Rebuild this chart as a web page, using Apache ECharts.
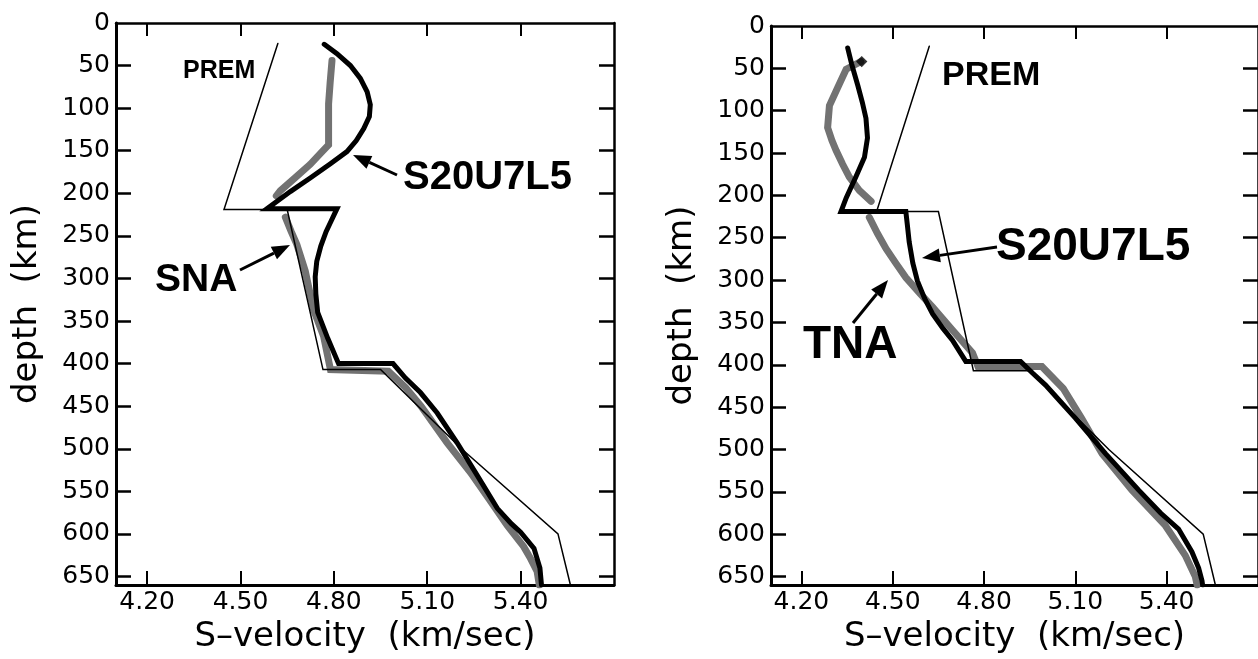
<!DOCTYPE html>
<html>
<head>
<meta charset="utf-8">
<script src="https://cdn.jsdelivr.net/npm/echarts@6/dist/echarts.min.js"></script>
<style>
  html, body { margin: 0; padding: 0; background: #fff; }
  #chart { width: 1258px; height: 659px; }
</style>
</head>
<body>
<div id="chart"></div>
<script>
// ---- tick labels ----
const velocityTicks = [4.20, 4.50, 4.80, 5.10, 5.40];
const depthTicks = [0, 50, 100, 150, 200, 250, 300, 350, 400, 450, 500, 550, 600, 650];
const depthTickMarks = [50, 100, 150, 200, 250, 300, 350, 400, 450, 500, 550, 600, 650];

// ---- reference model (both panels): [S-velocity km/s, depth km] ----
const prem = [[4.62, 24], [4.447, 219], [4.65, 219], [4.765, 407], [4.95, 407], [5.21, 500], [5.52, 600], [5.56, 660]];

// ---- left panel ----
const s20LeftSNA = [
  [4.769, 25], [4.81, 36], [4.853, 50], [4.885, 65], [4.907, 81], [4.917, 96], [4.914, 110], [4.896, 124],
  [4.872, 138], [4.842, 151], [4.79, 165], [4.724, 182], [4.66, 198], [4.585, 218], [4.81, 218], [4.792, 232],
  [4.775, 245], [4.758, 262], [4.745, 280], [4.74, 298], [4.742, 318], [4.748, 340], [4.78, 370], [4.815, 400],
  [4.99, 400], [5.03, 417], [5.078, 434], [5.132, 458], [5.196, 493], [5.26, 531], [5.325, 570], [5.37, 588],
  [5.40, 598], [5.443, 617], [5.462, 640], [5.467, 660]
];
const snaUpper = [
  [4.794, 44], [4.788, 70], [4.783, 95], [4.783, 120], [4.783, 143], [4.76, 152], [4.724, 166], [4.675, 182],
  [4.628, 197], [4.615, 203]
];
const snaLower = [
  [4.644, 228], [4.663, 245], [4.681, 260], [4.708, 291], [4.722, 315], [4.735, 337], [4.767, 368], [4.789, 407],
  [4.975, 409], [5.03, 428], [5.08, 450], [5.164, 493], [5.239, 528], [5.30, 560], [5.357, 590], [5.41, 615],
  [5.432, 629], [5.453, 644], [5.46, 660]
];

// ---- right panel ----
const s20RightTNA = [
  [4.352, 26], [4.365, 45], [4.385, 70], [4.40, 90], [4.412, 109], [4.417, 132], [4.407, 155], [4.379, 178],
  [4.347, 203], [4.33, 219], [4.543, 219], [4.548, 235], [4.554, 255], [4.566, 280], [4.581, 301], [4.605, 322],
  [4.631, 340], [4.665, 357], [4.696, 371], [4.74, 396], [4.92, 396], [4.96, 410], [5.002, 424], [5.05, 443],
  [5.10, 463], [5.199, 505], [5.308, 548], [5.38, 575], [5.439, 594], [5.483, 621], [5.505, 640], [5.516, 655],
  [5.518, 660]
];
const tnaUpper = [
  [4.395, 42], [4.347, 51], [4.32, 72], [4.292, 94], [4.286, 120], [4.30, 135], [4.314, 147], [4.335, 163],
  [4.357, 178], [4.39, 194], [4.429, 207]
];
const tnaLower = [
  [4.423, 226], [4.45, 245], [4.478, 263], [4.51, 280], [4.543, 297], [4.59, 316], [4.631, 332], [4.696, 359],
  [4.762, 386], [4.78, 402], [4.99, 402], [5.06, 428], [5.12, 463], [5.188, 505], [5.286, 548], [5.396, 590],
  [5.461, 625], [5.494, 650], [5.50, 660]
];
const tnaCap = [[4.398, 42]];

// ---- build ----
const chart = echarts.init(document.getElementById('chart'), null, { renderer: 'canvas' });
const TICK_FONT = 'DejaVu Sans';
const NAME_FONT = 'DejaVu Sans';
const ANN_FONT = '"Liberation Sans", Arial, sans-serif';

function xAxis(grid, bottom) {
  return {
    type: 'value', gridIndex: grid, position: bottom ? 'bottom' : 'top',
    min: 4.1, max: 5.7,
    axisLine: { show: true, onZero: false, lineStyle: { color: '#000', width: bottom ? 3 : 2.5 } },
    axisTick: { show: true, inside: true, length: bottom ? 14 : 13, lineStyle: { color: '#000', width: 2 }, customValues: velocityTicks },
    axisLabel: bottom ? {
      show: true, customValues: velocityTicks, formatter: v => Number(v).toFixed(2),
      color: '#000', fontFamily: TICK_FONT, fontSize: 25, margin: 5
    } : { show: false },
    splitLine: { show: false },
    name: bottom ? 'S–velocity  (km/sec)' : '',
    nameLocation: 'middle', nameGap: 35,
    nameTextStyle: { color: '#000', fontFamily: NAME_FONT, fontSize: 34 }
  };
}
function yAxis(grid, left) {
  return {
    type: 'value', gridIndex: grid, position: left ? 'left' : 'right',
    inverse: true, min: 0, max: 660,
    axisLine: { show: true, onZero: false, lineStyle: { color: '#000', width: left ? 3 : 2.5 } },
    axisTick: { show: true, inside: true, length: 15, lineStyle: { color: '#000', width: 2.5 }, customValues: depthTickMarks },
    axisLabel: left ? {
      show: true, customValues: depthTicks, color: '#000', fontFamily: TICK_FONT, fontSize: 25, margin: 6
    } : { show: false },
    splitLine: { show: false },
    name: left ? 'depth  (km)' : '',
    nameLocation: 'middle', nameGap: 72, nameRotate: 90,
    nameTextStyle: { color: '#000', fontFamily: NAME_FONT, fontSize: 34 }
  };
}
function line(data, xi, kind) {
  const styles = {
    thick: { color: '#000', width: 5, z: 5 },
    gray: { color: '#727272', width: 7, z: 2 },
    thin: { color: '#000', width: 1.5, z: 4 }
  };
  const s = styles[kind];
  return {
    type: 'line', data: data, xAxisIndex: xi, yAxisIndex: xi,
    showSymbol: false, symbol: 'none', smooth: false, z: s.z,
    lineStyle: { color: s.color, width: s.width, join: 'miter', cap: 'round' },
    animation: false, silent: true
  };
}
function arrow(x1, y1, x2, y2) {
  const dx = x2 - x1, dy = y2 - y1, len = Math.sqrt(dx * dx + dy * dy);
  const ux = dx / len, uy = dy / len, nx = -uy, ny = ux;
  const L = 18, W = 7;
  const bx = x2 - ux * L, by = y2 - uy * L;
  return [
    { type: 'line', shape: { x1: x1, y1: y1, x2: bx, y2: by }, style: { stroke: '#000', lineWidth: 3 }, z: 10 },
    { type: 'polygon', shape: { points: [[x2, y2], [bx + nx * W, by + ny * W], [bx - nx * W, by - ny * W]] }, style: { fill: '#000' }, z: 10 }
  ];
}
function label(text, x, y, size) {
  return { type: 'text', x: x, y: y, z: 10, style: { text: text, fill: '#000', font: 'bold ' + size + 'px ' + ANN_FONT, align: 'left', verticalAlign: 'middle' } };
}

chart.setOption({
  backgroundColor: '#fff',
  animation: false,
  grid: [
    { left: 116, right: 644, top: 23, bottom: 67 },
    { left: 771, right: -2, top: 26, bottom: 64 }
  ],
  xAxis: [xAxis(0, true), xAxis(1, true), xAxis(0, false), xAxis(1, false)],
  yAxis: [yAxis(0, true), yAxis(1, true), yAxis(0, false), yAxis(1, false)],
  series: [
    line(snaUpper, 0, 'gray'), line(snaLower, 0, 'gray'),
    line(prem, 0, 'thin'), line(s20LeftSNA, 0, 'thick'),
    line(tnaUpper, 1, 'gray'), line(tnaLower, 1, 'gray'),
    line(prem, 1, 'thin'), line(s20RightTNA, 1, 'thick'),
    { type: 'scatter', data: tnaCap, xAxisIndex: 1, yAxisIndex: 1, symbol: 'rect', symbolRotate: 45, symbolSize: 8,
      itemStyle: { color: '#000' }, z: 6, animation: false, silent: true }
  ],
  graphic: [
    label('PREM', 183, 71, 25),
    label('S20U7L5', 403, 178, 40),
    label('SNA', 155, 280, 39),
    ...arrow(397, 175, 353, 155),
    ...arrow(240, 270, 290, 245),
    label('PREM', 942, 76, 34),
    label('S20U7L5', 996, 247, 46),
    label('TNA', 803, 345, 46),
    ...arrow(997, 247, 922, 258),
    ...arrow(853, 323, 888, 280)
  ]
});
</script>
</body>
</html>
